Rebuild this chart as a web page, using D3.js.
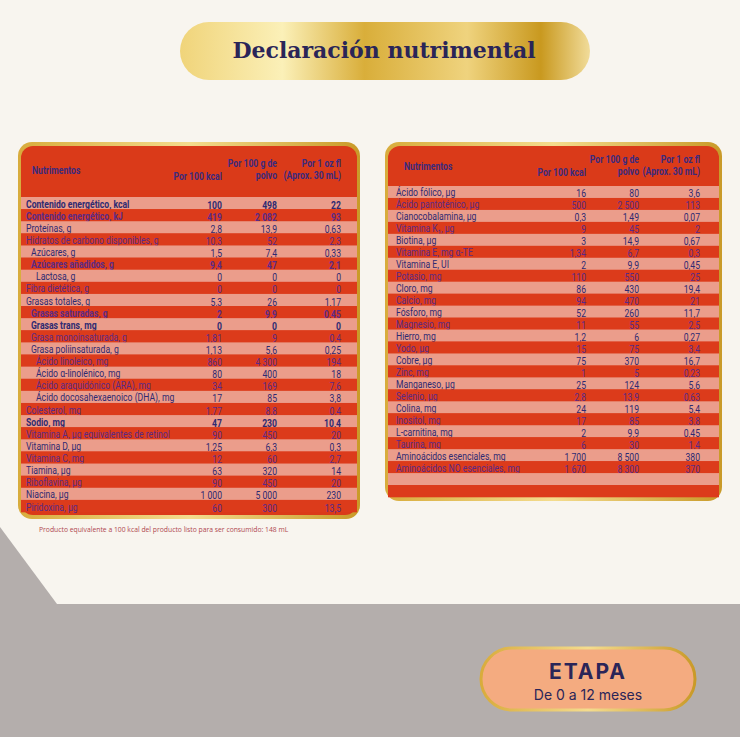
<!DOCTYPE html>
<html>
<head>
<meta charset="utf-8">
<script src="https://cdn.jsdelivr.net/npm/d3@7"></script>
<style>
  body { margin: 0; background: #b4aeac; }
  svg { display: block; }
  .cell { font-family: "Roboto", "Liberation Sans", sans-serif; font-size: 11.5px; }
</style>
</head>
<body>
<div id="canvas"></div>
<script>
// Left table
const leftLabels = ["Contenido energético, kcal", "Contenido energético, kJ", "Proteínas, g", "Hidratos de carbono disponibles, g",
  "Azúcares, g", "Azúcares añadidos, g", "Lactosa, g", "Fibra dietética, g", "Grasas totales, g", "Grasas saturadas, g",
  "Grasas trans, mg", "Grasa monoinsaturada, g", "Grasa poliinsaturada, g", "Ácido linoleico, mg", "Ácido α-linolénico, mg",
  "Ácido araquidónico (ARA), mg", "Ácido docosahexaenoico (DHA), mg", "Colesterol, mg", "Sodio, mg",
  "Vitamina A, µg equivalentes de retinol", "Vitamina D, µg", "Vitamina C, mg", "Tiamina, µg", "Riboflavina, µg",
  "Niacina, µg", "Piridoxina, µg"];
const leftKcal = ["100", "419", "2,8", "10,3", "1,5", "9,4", "0", "0", "5,3", "2", "0", "1,81", "1,13", "860", "80", "34", "17",
  "1,77", "47", "90", "1,25", "12", "63", "90", "1 000", "60"];
const leftPolvo = ["498", "2 082", "13,9", "52", "7,4", "47", "0", "0", "26", "9,9", "0", "9", "5,6", "4 300", "400", "169", "85",
  "8,8", "230", "450", "6,3", "60", "320", "450", "5 000", "300"];
const leftOz = ["22", "93", "0,63", "2,3", "0,33", "2,1", "0", "0", "1,17", "0,45", "0", "0,4", "0,25", "194", "18", "7,6", "3,8",
  "0,4", "10,4", "20", "0,3", "2,7", "14", "20", "230", "13,5"];
const leftIndent = [0, 0, 0, 0, 1, 1, 2, 0, 0, 1, 1, 1, 1, 2, 2, 2, 2, 0, 0, 0, 0, 0, 0, 0, 0, 0];
const boldRows = ["Contenido energético, kcal", "Contenido energético, kJ", "Azúcares añadidos, g", "Grasas saturadas, g",
  "Grasas trans, mg", "Sodio, mg"];

// Right table
const rightLabels = ["Ácido fólico, µg", "Ácido pantoténico, µg", "Cianocobalamina, µg", "Vitamina K₁, µg", "Biotina, µg",
  "Vitamina E, mg α-TE", "Vitamina E, UI", "Potasio, mg", "Cloro, mg", "Calcio, mg", "Fósforo, mg", "Magnesio, mg",
  "Hierro, mg", "Yodo, µg", "Cobre, µg", "Zinc, mg", "Manganeso, µg", "Selenio, µg", "Colina, mg", "Inositol, mg",
  "L-carnitina, mg", "Taurina, mg", "Aminoácidos esenciales, mg", "Aminoácidos NO esenciales, mg", "", ""];
const rightKcal = ["16", "500", "0,3", "9", "3", "1,34", "2", "110", "86", "94", "52", "11", "1,2", "15", "75", "1", "25", "2,8",
  "24", "17", "2", "6", "1 700", "1 670", "", ""];
const rightPolvo = ["80", "2 500", "1,49", "45", "14,9", "6,7", "9,9", "550", "430", "470", "260", "55", "6", "75", "370", "5",
  "124", "13,9", "119", "85", "9,9", "30", "8 500", "8 300", "", ""];
const rightOz = ["3,6", "113", "0,07", "2", "0,67", "0,3", "0,45", "25", "19,4", "21", "11,7", "2,5", "0,27", "3,4", "16,7",
  "0,23", "5,6", "0,63", "5,4", "3,8", "0,45", "1,4", "380", "370", "", ""];

const headers = ["Nutrimentos", "Por 100 kcal", "Por 100 g de|polvo", "Por 1 oz fl|(Aprox. 30 mL)"];

const W = 740, H = 737;
const narrow = 0.75; // condensed look
const svg = d3.select("#canvas").append("svg").attr("width", W).attr("height", H);
const defs = svg.append("defs");

const gold = defs.append("linearGradient").attr("id", "gold");
[["0", "#f0d47a"], ["0.25", "#fbf0b8"], ["0.45", "#d9ae3a"], ["0.7", "#efd37e"], ["0.88", "#c9991f"], ["1", "#f1dc9a"]]
  .forEach(s => gold.append("stop").attr("offset", s[0]).attr("stop-color", s[1]));
const goldEdge = defs.append("linearGradient").attr("id", "goldEdge");
[["0", "#d8ac3c"], ["0.5", "#f4dc8e"], ["1", "#c99a28"]]
  .forEach(s => goldEdge.append("stop").attr("offset", s[0]).attr("stop-color", s[1]));

// background
svg.append("rect").attr("width", W).attr("height", H).attr("fill", "#b4aeac");
svg.append("path").attr("d", "M0,0H740V604H57L0,527Z").attr("fill", "#f8f5ef");

// title pill
svg.append("rect").attr("x", 180).attr("y", 22).attr("width", 410).attr("height", 58).attr("rx", 29)
  .attr("fill", "url(#gold)");
svg.append("text").attr("x", 384).attr("y", 58).attr("text-anchor", "middle")
  .attr("font-family", "DejaVu Serif, serif").attr("font-weight", "bold").attr("font-size", 22)
  .attr("fill", "#2a2558").text("Declaración nutrimental");

function place(x, y) { return `translate(${x},${y}) scale(${narrow},1)`; }

function drawTable(opt) {
  const g = svg.append("g");
  g.append("rect").attr("x", opt.x0 - 3).attr("y", opt.y0 - 4).attr("width", opt.x1 - opt.x0 + 6)
    .attr("height", opt.y1 - opt.y0 + 8).attr("rx", 14).attr("fill", "url(#goldEdge)");
  g.append("rect").attr("x", opt.x0).attr("y", opt.y0).attr("width", opt.x1 - opt.x0)
    .attr("height", opt.y1 - opt.y0).attr("rx", 12).attr("fill", "#da3a19");

  const y = d3.scaleBand().domain(d3.range(opt.labels.length)).range([opt.rowTop, opt.rowBottom]);
  const x = d3.scaleOrdinal().domain([0, 1, 2, 3]).range(opt.cols);

  // header
  headers.forEach((h, i) => {
    const lines = h.split("|");
    const base = i === 0 ? opt.headY - 2 : i === 1 ? opt.headY + 4 : opt.headY - 9;
    const hx = i === 0 ? x(0) + opt.headIndent : x(i);
    lines.forEach((l, j) => g.append("text").attr("class", "cell").attr("fill", "#3b2a7e").attr("font-weight", "bold")
      .attr("text-anchor", i === 0 ? "start" : "end").attr("font-size", 12)
      .attr("transform", place(hx, base + j * 12)).text(l));
  });

  const rows = g.selectAll(".row").data(opt.labels.map((l, i) => ({
    label: l, vals: [opt.kcal[i], opt.polvo[i], opt.oz[i]], i, indent: opt.indent ? opt.indent[i] : 0
  }))).enter().append("g");

  rows.append("rect").attr("x", opt.x0).attr("width", opt.x1 - opt.x0)
    .attr("y", d => y(d.i)).attr("height", y.bandwidth() + 0.3)
    .attr("fill", d => d.i % 2 === 0 ? "#eb9d8b" : "#dc3b1b");

  const color = d => d.i % 2 === 0 ? "#2e2a72" : "#5a2a86";
  const weight = d => boldRows.includes(d.label) ? "bold" : "normal";

  rows.append("text").attr("class", "cell")
    .attr("transform", d => place(x(0) + d.indent * 5, y(d.i) + y.bandwidth() - 1.5))
    .attr("fill", color).attr("font-weight", weight).text(d => d.label);
  [0, 1, 2].forEach(k => {
    rows.append("text").attr("class", "cell").attr("text-anchor", "end")
      .attr("transform", d => place(x(k + 1), y(d.i) + y.bandwidth() - 0.5))
      .attr("fill", color).attr("font-weight", weight)
      .attr("font-size", 13).text(d => d.vals[k]);
  });
}

drawTable({ x0: 21, x1: 357, y0: 146, y1: 515, rowTop: 197, rowBottom: 512, headY: 176, headIndent: 6,
  cols: [26, 222, 277, 341], labels: leftLabels, kcal: leftKcal, polvo: leftPolvo, oz: leftOz, indent: leftIndent });
drawTable({ x0: 388, x1: 719, y0: 146, y1: 497, rowTop: 186, rowBottom: 497, headY: 172, headIndent: 8,
  cols: [396, 586, 639, 700], labels: rightLabels, kcal: rightKcal, polvo: rightPolvo, oz: rightOz });

// footnote
svg.append("text").attr("transform", `translate(39,532) scale(0.85,1)`).attr("font-family", "Open Sans, sans-serif")
  .attr("font-size", 8).attr("fill", "#b04850")
  .text("Producto equivalente a 100 kcal del producto listo para ser consumido: 148 mL");

// stage pill
svg.append("rect").attr("x", 481).attr("y", 648).attr("width", 214).attr("height", 62).attr("rx", 31)
  .attr("fill", "#f4ab80").attr("stroke", "url(#goldEdge)").attr("stroke-width", 3);
svg.append("text").attr("x", 588).attr("y", 679).attr("text-anchor", "middle").attr("font-family", "Inter, sans-serif")
  .attr("font-weight", "bold").attr("font-size", 21).attr("letter-spacing", 2).attr("fill", "#2a2558").text("ETAPA");
svg.append("text").attr("x", 588).attr("y", 700).attr("text-anchor", "middle").attr("font-family", "Inter, sans-serif")
  .attr("font-size", 14).attr("fill", "#2a2558").text("De 0 a 12 meses");
</script>
</body>
</html>
